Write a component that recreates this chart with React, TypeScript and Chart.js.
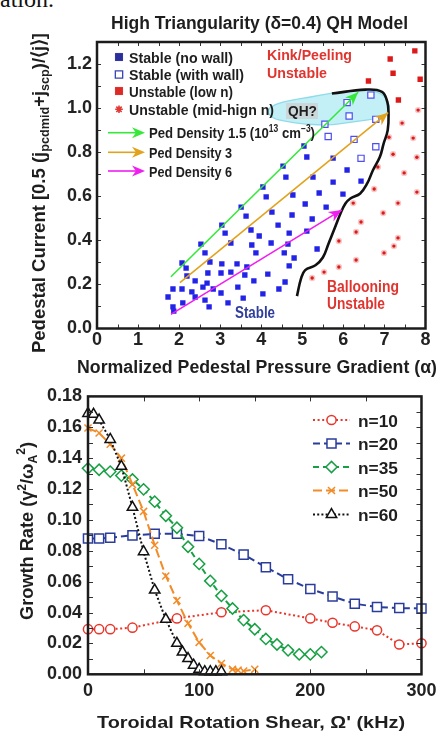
import React, { useEffect, useRef } from "react";
import { Chart, registerables } from "chart.js";

Chart.register(...registerables);

// ================= TOP PANEL DATA (alpha, pedestal current) =================
const alphaTicks = [0, 1, 2, 3, 4, 5, 6, 7, 8];
const currentTicks = [0, 0.2, 0.4, 0.6, 0.8, 1.0, 1.2];

const stableNoWall: [number, number][] = [
  [5.04, 0.828], [5.11, 0.778], [4.53, 0.737], [4.6, 0.687], [5.75, 0.773], [6.09, 0.719],
  [5.26, 0.687], [5.75, 0.664], [6.43, 0.669], [4.04, 0.642], [4.12, 0.597], [4.77, 0.606],
  [5.41, 0.615], [5.99, 0.61], [3.51, 0.551], [3.63, 0.51], [4.26, 0.528], [5.07, 0.565],
  [5.58, 0.551], [3.04, 0.469], [3.12, 0.433], [3.75, 0.447], [4.41, 0.469], [4.75, 0.515],
  [5.24, 0.497], [2.53, 0.383], [2.63, 0.343], [3.26, 0.388], [3.95, 0.42], [4.68, 0.433],
  [5.11, 0.442], [4.24, 0.388], [4.65, 0.383], [3.77, 0.379], [5.36, 0.361], [2.07, 0.297],
  [2.17, 0.274], [2.19, 0.238], [2.75, 0.302], [3.04, 0.293], [3.41, 0.293], [3.87, 0.343],
  [4.56, 0.343], [4.8, 0.32], [3.65, 0.279], [2.7, 0.252], [3.02, 0.252], [3.26, 0.256],
  [3.6, 0.243], [4.16, 0.247], [4.68, 0.284], [4.58, 0.211], [3.82, 0.216], [2.39, 0.216],
  [2.68, 0.206], [1.85, 0.179], [2.07, 0.179], [2.31, 0.166], [2.58, 0.188], [2.83, 0.179],
  [3.43, 0.188], [4.43, 0.179], [4.04, 0.157], [3.02, 0.161], [1.73, 0.143], [2.09, 0.116],
  [2.39, 0.143], [2.63, 0.129], [2.73, 0.098], [3.19, 0.116], [3.56, 0.138], [1.85, 0.098],
  [1.87, 0.079],
];

const stableWithWall: [number, number][] = [
  [6.09, 1.025], [6.67, 1.059], [6.14, 0.964], [6.79, 0.949], [5.55, 0.927],
  [5.63, 0.871], [6.26, 0.858], [6.79, 0.825], [6.43, 0.772],
];

const unstableLowN: [number, number][] = [
  [6.61, 1.123], [7.14, 1.223], [7.21, 1.158], [7.74, 1.26], [7.87, 1.131], [7.34, 1.037],
];

const unstableMidHighN: [number, number][] = [
  [7.82, 0.991], [7.43, 0.932], [7.7, 0.864], [7.11, 0.868], [7.21, 0.791], [7.79, 0.777],
  [6.84, 0.733], [7.48, 0.706], [6.75, 0.633], [7.79, 0.619], [7.33, 0.569], [6.24, 0.569],
  [6.97, 0.524], [6.43, 0.483], [6.31, 0.438], [5.89, 0.397], [7.33, 0.411], [7.23, 0.374],
  [6.99, 0.343], [6.31, 0.311], [5.89, 0.279], [5.53, 0.256], [5.24, 0.229],
];

const densityPath15: [number, number][] = [[1.8, 0.235], [6.36, 1.072]];
const densityPath3: [number, number][] = [[2.02, 0.208], [7.09, 0.979]];
const densityPath6: [number, number][] = [[1.8, 0.064], [5.96, 0.538]];

const stabilityBoundary: [number, number][] = [
  [5.72, 1.066], [6.54, 1.084], [6.94, 1.074], [7.07, 1.028], [7.1, 0.975], [7.08, 0.9],
  [6.98, 0.839], [6.89, 0.779], [6.72, 0.718], [6.58, 0.658], [6.41, 0.613], [6.17, 0.59],
  [6.05, 0.567], [5.93, 0.522], [5.8, 0.461], [5.64, 0.386], [5.5, 0.322], [5.32, 0.287],
  [5.07, 0.265], [4.97, 0.227], [4.87, 0.147],
];

const qhRegion: [number, number][] = [
  [4.12, 0.99], [4.34, 1.018], [4.71, 1.036], [5.2, 1.05], [5.68, 1.068], [6.29, 1.082],
  [6.85, 1.077], [7.1, 1.036], [7.12, 0.982], [6.9, 0.954], [6.29, 0.94], [5.68, 0.922],
  [5.07, 0.927], [4.59, 0.94], [4.27, 0.954],
];

// ================= BOTTOM PANEL DATA (shear kHz, growth rate) =================
const shearTicks = [0, 100, 200, 300];
const growthTicks = [0, 0.02, 0.04, 0.06, 0.08, 0.1, 0.12, 0.14, 0.16, 0.18];

const n10Shear = [0, 10, 20, 40, 80, 120, 160, 200, 220, 240, 260, 280, 300];
const n10Growth = [0.0292, 0.0292, 0.0292, 0.0302, 0.0362, 0.0402, 0.0415, 0.0362, 0.0334, 0.031, 0.0285, 0.0193, 0.0201];

const n20Shear = [0, 10, 20, 40, 60, 80, 100, 120, 140, 160, 180, 200, 220, 240, 260, 280, 300];
const n20Growth = [0.0879, 0.0879, 0.0885, 0.09, 0.091, 0.091, 0.0896, 0.0842, 0.0775, 0.0694, 0.0616, 0.0553, 0.0504, 0.0457, 0.0436, 0.0429, 0.0426];

const n35Shear = [0, 10, 20, 30, 40, 50, 60, 70, 80, 90, 100, 110, 120, 130, 140, 150, 160, 170, 180, 190, 200, 210];
const n35Growth = [0.1334, 0.1325, 0.1313, 0.1287, 0.1262, 0.1198, 0.1118, 0.1027, 0.0949, 0.0826, 0.0715, 0.0605, 0.0508, 0.0426, 0.0351, 0.0292, 0.0229, 0.0193, 0.0155, 0.0129, 0.0129, 0.0144];

const n50Shear = [0, 10, 20, 30, 40, 50, 60, 70, 80, 90, 100, 110, 120, 130, 135, 140, 150];
const n50Growth = [0.1595, 0.1563, 0.149, 0.14, 0.123, 0.1055, 0.0836, 0.0637, 0.0478, 0.033, 0.0207, 0.0122, 0.007, 0.0032, 0.0027, 0.0021, 0.0032];

const n60Shear = [0, 5, 10, 20, 30, 40, 50, 60, 70, 80, 85, 90, 95, 100, 105, 110, 115, 120];
const n60Growth = [0.169, 0.1684, 0.1647, 0.1521, 0.1347, 0.1082, 0.0794, 0.0546, 0.0356, 0.0201, 0.0144, 0.0102, 0.0059, 0.0032, 0.0017, 0.0017, 0.0017, 0.0017];

const modeLabels = ["n=10", "n=20", "n=35", "n=50", "n=60"];

// ================= STYLES =================
const SANS = '"Liberation Sans", Arial, Helvetica, sans-serif';
const NARROW = '"Liberation Sans Narrow", "Liberation Sans", Arial, sans-serif';
const INK = "#1e1e1e";
const RED_TXT = "#e0352f";

type Run = { t: string; s: number; dy?: number };

function drawRich(ctx: any, runs: Run[], x: number, y: number, o: any) {
  const family = o.family || NARROW;
  const weight = o.weight || "bold";
  ctx.save();
  ctx.translate(x, y);
  if (o.angle) ctx.rotate(o.angle);
  let total = 0;
  const ws = runs.map((r) => {
    ctx.font = `${weight} ${r.s}px ${family}`;
    const w = ctx.measureText(r.t).width;
    total += w;
    return w;
  });
  const sx = o.width ? o.width / total : 1;
  ctx.scale(sx, 1);
  let cx = o.align === "center" ? -total / 2 : o.align === "right" ? -total : 0;
  ctx.fillStyle = o.color || INK;
  ctx.textBaseline = "alphabetic";
  ctx.textAlign = "left";
  runs.forEach((r, i) => {
    ctx.font = `${weight} ${r.s}px ${family}`;
    ctx.fillText(r.t, cx, r.dy || 0);
    cx += ws[i];
  });
  ctx.restore();
}

function drawMarker(ctx: any, style: string, x: number, y: number, r: number, stroke: string, fill: string, lw: number) {
  ctx.save();
  ctx.setLineDash([]);
  ctx.lineWidth = lw;
  ctx.strokeStyle = stroke;
  ctx.fillStyle = fill;
  ctx.beginPath();
  if (style === "circle") ctx.arc(x, y, r, 0, Math.PI * 2);
  else if (style === "rect") {
    const s = r * Math.SQRT1_2;
    ctx.rect(x - s, y - s, 2 * s, 2 * s);
  } else if (style === "rectRot") {
    ctx.moveTo(x - r, y); ctx.lineTo(x, y - r); ctx.lineTo(x + r, y); ctx.lineTo(x, y + r); ctx.closePath();
  } else if (style === "triangle") {
    const c = Math.cos(Math.PI / 6) * r;
    ctx.moveTo(x, y - r); ctx.lineTo(x + c, y + r / 2); ctx.lineTo(x - c, y + r / 2); ctx.closePath();
  } else if (style === "crossRot") {
    const s = r * Math.SQRT1_2;
    ctx.moveTo(x - s, y - s); ctx.lineTo(x + s, y + s); ctx.moveTo(x + s, y - s); ctx.lineTo(x - s, y + s);
  } else if (style === "star") {
    for (let k = 0; k < 4; k++) {
      const a = (k * Math.PI) / 4;
      ctx.moveTo(x - Math.cos(a) * r, y - Math.sin(a) * r);
      ctx.lineTo(x + Math.cos(a) * r, y + Math.sin(a) * r);
    }
  }
  if (style !== "crossRot" && style !== "star" && fill) ctx.fill();
  ctx.stroke();
  ctx.restore();
}

function drawArrowHead(ctx: any, x0: number, y0: number, x1: number, y1: number, color: string, len: number, half: number) {
  const a = Math.atan2(y1 - y0, x1 - x0);
  ctx.save();
  ctx.fillStyle = color;
  ctx.beginPath();
  ctx.moveTo(x1, y1);
  ctx.lineTo(x1 - Math.cos(a) * len + Math.sin(a) * half, y1 - Math.sin(a) * len - Math.cos(a) * half);
  ctx.lineTo(x1 - Math.cos(a) * len * 0.7, y1 - Math.sin(a) * len * 0.7);
  ctx.lineTo(x1 - Math.cos(a) * len - Math.sin(a) * half, y1 - Math.sin(a) * len + Math.cos(a) * half);
  ctx.closePath();
  ctx.fill();
  ctx.restore();
}

function drawFrameAndTicks(chart: any, xStep: number, yStep: number, tl: number) {
  const { ctx, chartArea: a, scales } = chart;
  const xs = scales.x, ys = scales.y;
  ctx.save();
  ctx.strokeStyle = "#333";
  ctx.lineWidth = 1;
  ctx.beginPath();
  for (let v = xs.min + xStep; v < xs.max - 1e-9; v += xStep) {
    const p = Math.round(xs.getPixelForValue(v)) + 0.5;
    ctx.moveTo(p, a.bottom); ctx.lineTo(p, a.bottom - tl);
    ctx.moveTo(p, a.top); ctx.lineTo(p, a.top + tl);
  }
  for (let v = ys.min + yStep; v < ys.max - 1e-9; v += yStep) {
    const p = Math.round(ys.getPixelForValue(v)) + 0.5;
    ctx.moveTo(a.left, p); ctx.lineTo(a.left + tl, p);
    ctx.moveTo(a.right, p); ctx.lineTo(a.right - tl, p);
  }
  ctx.stroke();
  ctx.lineWidth = 2.5;
  ctx.strokeStyle = "#1c1c1c";
  ctx.strokeRect(a.left, a.top, a.right - a.left, a.bottom - a.top);
  ctx.restore();
}

const tickFont = { family: SANS, size: 18, weight: "bold" as const };

// ================= TOP PANEL =================
const arrowColors = ["#35e83a", "#e2a21c", "#f01ef0"];

const topDecor = {
  id: "topDecor",
  beforeDatasetsDraw(chart: any) {
    const { ctx, scales } = chart;
    const pts = qhRegion.map(([a, b]) => [scales.x.getPixelForValue(a), scales.y.getPixelForValue(b)]);
    const n = pts.length;
    const mid = (p: number[], q: number[]) => [(p[0] + q[0]) / 2, (p[1] + q[1]) / 2];
    ctx.save();
    ctx.beginPath();
    const m0 = mid(pts[n - 1], pts[0]);
    ctx.moveTo(m0[0], m0[1]);
    for (let i = 0; i < n; i++) {
      const p = pts[i], q = pts[(i + 1) % n];
      const mm = mid(p, q);
      ctx.quadraticCurveTo(p[0], p[1], mm[0], mm[1]);
    }
    ctx.closePath();
    ctx.fillStyle = "#c3f0f7";
    ctx.fill();
    ctx.strokeStyle = "#8fdbe8";
    ctx.lineWidth = 1.3;
    ctx.stroke();
    ctx.fillStyle = "#cbd7d9";
    ctx.fillRect(286, 103, 32, 16);
    ctx.restore();
  },
  afterDatasetsDraw(chart: any) {
    const { ctx } = chart;
    [0, 1, 2].forEach((i) => {
      const meta = chart.getDatasetMeta(i);
      const p0 = meta.data[0], p1 = meta.data[meta.data.length - 1];
      drawArrowHead(ctx, p0.x, p0.y, p1.x, p1.y, arrowColors[i], 13, 5.5);
    });
  },
  afterDraw(chart: any) {
    const { ctx } = chart;
    drawFrameAndTicks(chart, 0.5, 0.1, 4);
    // title
    drawRich(ctx, [{ t: "High Triangularity (\u03B4=0.4) QH Model", s: 18 }], 259.5, 29, { align: "center", width: 297 });
    // axis titles
    drawRich(ctx, [{ t: "Normalized Pedestal Pressure Gradient (\u03B1)", s: 18 }], 257, 373, { align: "center", width: 360 });
    drawRich(
      ctx,
      [
        { t: "Pedestal Current [0.5 (j", s: 19 },
        { t: "pcdmid", s: 13, dy: 4 },
        { t: "+j", s: 19 },
        { t: "scp", s: 13, dy: 4 },
        { t: ")/\u27E8j\u27E9]", s: 19 },
      ],
      45, 193, { align: "center", width: 320, angle: -Math.PI / 2 }
    );
    // legend
    const lx = 119;
    drawMarker(ctx, "rect", lx, 57, 5.6, "#2b2f9c", "#2b2f9c", 0.1);
    drawMarker(ctx, "rect", lx, 74.5, 5.2, "#3844b0", "#ffffff", 1.3);
    drawMarker(ctx, "rect", lx, 91, 5.6, "#dc2a26", "#dc2a26", 0.1);
    drawMarker(ctx, "star", lx, 109.3, 3.8, "#e03a34", "", 1.6);
    const legTxt = [
      ["Stable (no wall)", 62.5, 104],
      ["Stable (with wall)", 80, 115],
      ["Unstable (low n)", 96.5, 104],
      ["Unstable (mid-hign n)", 115, 145],
    ];
    legTxt.forEach(([t, y, w]: any) => drawRich(ctx, [{ t, s: 15.5 }], 129, y, { width: w }));
    const arrowRows = [132.7, 152.3, 171];
    arrowRows.forEach((y, i) => {
      ctx.save();
      ctx.strokeStyle = arrowColors[i];
      ctx.lineWidth = 1.6;
      ctx.beginPath();
      ctx.moveTo(108, y);
      ctx.lineTo(138, y);
      ctx.stroke();
      ctx.restore();
      drawArrowHead(ctx, 108, y, 145, y, arrowColors[i], 13, 5.5);
    });
    drawRich(
      ctx,
      [
        { t: "Ped Density 1.5 (10", s: 15.5 },
        { t: "13", s: 10, dy: -6 },
        { t: " cm", s: 15.5 },
        { t: "\u22123", s: 10, dy: -6 },
        { t: ")", s: 15.5 },
      ],
      149, 138, { width: 166 }
    );
    drawRich(ctx, [{ t: "Ped Density 3", s: 15.5 }], 149, 157.5, { width: 83 });
    drawRich(ctx, [{ t: "Ped Density 6", s: 15.5 }], 149, 176.5, { width: 83 });
    // annotations
    drawRich(ctx, [{ t: "Kink/Peeling", s: 15.5 }], 267, 60, { width: 85, color: RED_TXT });
    drawRich(ctx, [{ t: "Unstable", s: 15.5 }], 267, 78, { width: 60, color: RED_TXT });
    drawRich(ctx, [{ t: "QH?", s: 15.5 }], 288, 116, { width: 29 });
    drawRich(ctx, [{ t: "Stable", s: 16 }], 235, 318, { width: 40, color: "#2f3d9c" });
    drawRich(ctx, [{ t: "Ballooning", s: 16 }], 327, 292, { width: 72, color: RED_TXT });
    drawRich(ctx, [{ t: "Unstable", s: 16 }], 327, 308.5, { width: 58, color: RED_TXT });
  },
};

function TopPanel() {
  const ref = useRef<HTMLCanvasElement>(null);
  useEffect(() => {
    const toXY = (arr: [number, number][]) => arr.map(([x, y]) => ({ x, y }));
    const arrowDs = (arr: [number, number][], c: string) => ({
      data: toXY(arr), showLine: true, borderColor: c, borderWidth: 1.6, pointRadius: 0, clip: false,
    });
    const chart = new Chart(ref.current as HTMLCanvasElement, {
      type: "scatter",
      data: {
        datasets: [
          arrowDs(densityPath15, arrowColors[0]),
          arrowDs(densityPath3, arrowColors[1]),
          arrowDs(densityPath6, arrowColors[2]),
          {
            data: toXY(stabilityBoundary), showLine: true, borderColor: "#111", borderWidth: 2.6,
            pointRadius: 0, tension: 0.4,
          },
          { data: toXY(unstableMidHighN), pointStyle: "circle", pointRadius: 1.7, backgroundColor: "#d81c1c", borderWidth: 0 },
          { data: toXY(unstableMidHighN), pointStyle: "circle", pointRadius: 3.2, backgroundColor: "rgba(240,130,130,0.45)", borderWidth: 0 },
          { data: toXY(unstableLowN), pointStyle: "rect", pointRadius: 3.8, backgroundColor: "#dc1a1a", borderWidth: 0 },
          { data: toXY(stableWithWall), pointStyle: "rect", pointRadius: 4.4, backgroundColor: "#ffffff", borderColor: "#4d4df2", borderWidth: 1.2 },
          { data: toXY(stableNoWall), pointStyle: "rect", pointRadius: 3.8, backgroundColor: "#2323e8", borderWidth: 0 },
        ] as any,
      },
      options: {
        responsive: false,
        animation: false,
        devicePixelRatio: 1,
        events: [],
        layout: { padding: { left: 0, right: 16.5, top: 42, bottom: 0 } },
        plugins: { legend: { display: false }, tooltip: { enabled: false }, title: { display: false } },
        scales: {
          x: {
            type: "linear", min: 0, max: 8,
            grid: { display: false, drawTicks: false, tickLength: 0 },
            border: { display: false },
            afterBuildTicks: (s: any) => { s.ticks = alphaTicks.map((v) => ({ value: v })); },
            afterFit: (s: any) => { s.height = 56.5; },
            ticks: { font: tickFont, color: "#222", padding: 1, autoSkip: false, maxRotation: 0, callback: (v: any) => String(v) },
          },
          y: {
            type: "linear", min: 0, max: 1.3,
            grid: { display: false, drawTicks: false, tickLength: 0 },
            border: { display: false },
            afterBuildTicks: (s: any) => { s.ticks = currentTicks.map((v) => ({ value: v })); },
            afterFit: (s: any) => { s.width = 97; },
            ticks: { font: { ...tickFont, lineHeight: 0.6 }, color: "#222", padding: 5, autoSkip: false, callback: (v: any) => Number(v).toFixed(1) },
          },
        },
      } as any,
      plugins: [topDecor],
    });
    return () => chart.destroy();
  }, []);
  return <canvas ref={ref} width={442} height={385} style={{ position: "absolute", left: 0, top: 0, width: 442, height: 385 }} />;
}

// ================= BOTTOM PANEL =================
const modeStyles = [
  { color: "#e8362c", dash: [2, 2.6], marker: "circle", r: 4.6 },
  { color: "#2a3d9a", dash: [7, 4], marker: "rect", r: 6.4 },
  { color: "#16a043", dash: [6, 4], marker: "rectRot", r: 5.6 },
  { color: "#f28c28", dash: [9, 4], marker: "crossRot", r: 5 },
  { color: "#111111", dash: [2, 2.2], marker: "triangle", r: 6 },
];
const legendRows = [35, 58.5, 82, 105.5, 129.5];

const bottomDecor = {
  id: "bottomDecor",
  afterDraw(chart: any) {
    const { ctx } = chart;
    drawFrameAndTicks(chart, 50, 0.01, 5);
    modeStyles.forEach((st, i) => {
      const y = legendRows[i];
      ctx.save();
      ctx.strokeStyle = st.color;
      ctx.lineWidth = 2;
      ctx.setLineDash(st.dash);
      ctx.beginPath();
      ctx.moveTo(313, y);
      ctx.lineTo(350, y);
      ctx.stroke();
      ctx.restore();
      drawMarker(ctx, st.marker, 331.5, y, st.r, st.color, "#ffffff", 1.5);
      drawRich(ctx, [{ t: modeLabels[i], s: 17 }], 358, y + 6.5, { width: 40, family: SANS });
    });
    drawRich(
      ctx,
      [
        { t: "Growth Rate (\u03B3", s: 18 },
        { t: "2", s: 12, dy: -7 },
        { t: "/\u03C9", s: 18 },
        { t: "A", s: 12, dy: 4 },
        { t: "2", s: 12, dy: -8 },
        { t: ")", s: 18 },
      ],
      33, 146, { align: "center", width: 178, angle: -Math.PI / 2 }
    );
    drawRich(ctx, [{ t: "Toroidal Rotation Shear, \u03A9' (kHz)", s: 17 }], 251, 343, { align: "center", width: 308 });
  },
};

function BottomPanel() {
  const ref = useRef<HTMLCanvasElement>(null);
  useEffect(() => {
    const series = [
      [n10Shear, n10Growth],
      [n20Shear, n20Growth],
      [n35Shear, n35Growth],
      [n50Shear, n50Growth],
      [n60Shear, n60Growth],
    ];
    const datasets = series
      .map(([xs, ys], i) => {
        const st = modeStyles[i];
        return {
          label: modeLabels[i],
          data: xs.map((x, k) => ({ x, y: ys[k] })),
          showLine: true,
          borderColor: st.color,
          borderWidth: 2,
          borderDash: st.dash,
          pointStyle: st.marker,
          pointRadius: st.r,
          pointBorderColor: st.color,
          pointBackgroundColor: "#ffffff",
          pointBorderWidth: 1.5,
          tension: 0,
          clip: false,
        };
      })
      .reverse();
    const chart = new Chart(ref.current as HTMLCanvasElement, {
      type: "scatter",
      data: { datasets } as any,
      options: {
        responsive: false,
        animation: false,
        devicePixelRatio: 1,
        events: [],
        layout: { padding: { left: 0, right: 17, top: 6, bottom: 0 } },
        plugins: { legend: { display: false }, tooltip: { enabled: false }, title: { display: false } },
        scales: {
          x: {
            type: "linear", min: 0, max: 300,
            grid: { display: false, drawTicks: false, tickLength: 0 },
            border: { display: false },
            afterBuildTicks: (s: any) => { s.ticks = shearTicks.map((v) => ({ value: v })); },
            afterFit: (s: any) => { s.height = 58.7; },
            ticks: { font: tickFont, color: "#222", padding: 5.5, autoSkip: false, maxRotation: 0, callback: (v: any) => String(v) },
          },
          y: {
            type: "linear", min: 0, max: 0.18,
            grid: { display: false, drawTicks: false, tickLength: 0 },
            border: { display: false },
            afterBuildTicks: (s: any) => { s.ticks = growthTicks.map((v) => ({ value: v })); },
            afterFit: (s: any) => { s.width = 88; },
            ticks: { font: { ...tickFont, lineHeight: 0.6 }, color: "#222", padding: 6, autoSkip: false, callback: (v: any) => Number(v).toFixed(2) },
          },
        },
      } as any,
      plugins: [bottomDecor],
    });
    return () => chart.destroy();
  }, []);
  return <canvas ref={ref} width={442} height={348} style={{ position: "absolute", left: 0, top: 385, width: 442, height: 348 }} />;
}

export default function App() {
  return (
    <div style={{ position: "absolute", left: 0, top: 0, width: 442, height: 733, overflow: "hidden", background: "#ffffff" }}>
      <div
        style={{
          position: "absolute", left: 0, top: -13, fontFamily: '"Liberation Serif", "Times New Roman", serif',
          fontSize: 24, lineHeight: "24px", color: "#111", whiteSpace: "nowrap",
        }}
      >
        ation.
      </div>
      <TopPanel />
      <BottomPanel />
    </div>
  );
}
